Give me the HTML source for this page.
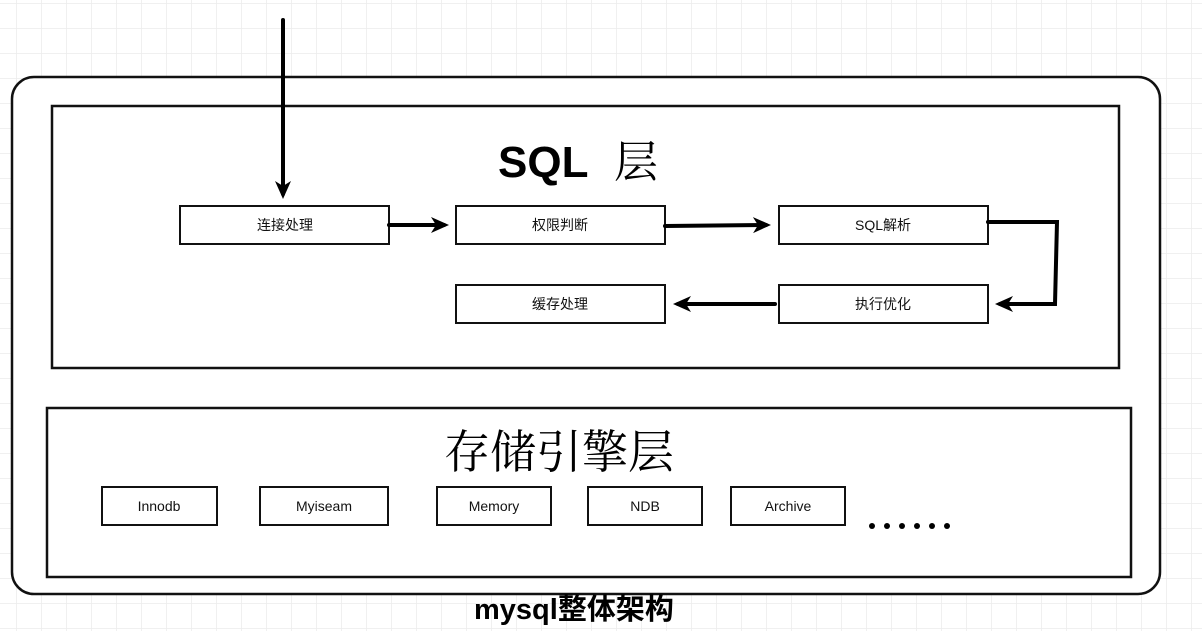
<!DOCTYPE html>
<html><head><meta charset="utf-8"><style>
html,body{margin:0;padding:0;background:#fff;}
body{width:1202px;height:631px;overflow:hidden;}
text{font-family:"Liberation Sans","Noto Sans CJK SC",sans-serif;}
</style></head><body>
<svg width="1202" height="631" viewBox="0 0 1202 631" xmlns="http://www.w3.org/2000/svg">
<defs>
<pattern id="g" x="16" y="3" width="25" height="25" patternUnits="userSpaceOnUse">
<path d="M0 0H25M0 0V25" stroke="#ececec" stroke-width="1.5" fill="none"/>
</pattern>
<marker id="a" markerWidth="18" markerHeight="18" refX="13" refY="9" orient="auto" markerUnits="userSpaceOnUse" viewBox="0 0 18 18">
<path d="M0 1L18 9L0 17L5 9Z" fill="#000"/>
</marker>
</defs>
<rect width="1202" height="631" fill="url(#g)"/>
<rect x="12" y="77" width="1148" height="517" rx="22" fill="#fff" stroke="#111" stroke-width="2.5"/>
<rect x="52" y="106" width="1067" height="262" fill="#fff" stroke="#111" stroke-width="2.5"/>
<rect x="47" y="408" width="1084" height="169" fill="#fff" stroke="#111" stroke-width="2.5"/>

<text x="498" y="177" font-size="44" font-weight="bold" fill="#000">SQL</text>
<text x="614" y="177" font-size="44" fill="#000" style="font-family:'Noto Serif CJK SC',serif">层</text>
<text x="444" y="468" font-size="46" fill="#000" style="font-family:'Noto Serif CJK SC',serif">存储引擎层</text>

<g fill="#fff" stroke="#111" stroke-width="2">
<rect x="180" y="206" width="209" height="38"/>
<rect x="456" y="206" width="209" height="38"/>
<rect x="779" y="206" width="209" height="38"/>
<rect x="779" y="285" width="209" height="38"/>
<rect x="456" y="285" width="209" height="38"/>
<rect x="102" y="487" width="115" height="38"/>
<rect x="260" y="487" width="128" height="38"/>
<rect x="437" y="487" width="114" height="38"/>
<rect x="588" y="487" width="114" height="38"/>
<rect x="731" y="487" width="114" height="38"/>
</g>
<g font-size="14" fill="#111" text-anchor="middle">
<text x="285" y="230">连接处理</text>
<text x="560" y="230">权限判断</text>
<text x="883" y="230">SQL解析</text>
<text x="883" y="309">执行优化</text>
<text x="560" y="309">缓存处理</text>
<text x="159" y="511">Innodb</text>
<text x="324" y="511">Myiseam</text>
<text x="494" y="511">Memory</text>
<text x="645" y="511">NDB</text>
<text x="788" y="511">Archive</text>
</g>
<g stroke="#000" stroke-width="4" fill="none" stroke-linecap="round">
<path d="M283 20V194" marker-end="url(#a)"/>
<path d="M389 225H444" marker-end="url(#a)"/>
<path d="M665 226L766 225" marker-end="url(#a)"/>
<path d="M988 222H1057L1055 304H1000" marker-end="url(#a)"/>
<path d="M775 304H678" marker-end="url(#a)"/>
</g>
<g fill="#000">
<circle cx="872" cy="526" r="3"/><circle cx="887" cy="526" r="3"/><circle cx="902" cy="526" r="3"/>
<circle cx="917" cy="526" r="3"/><circle cx="932" cy="526" r="3"/><circle cx="947" cy="526" r="3"/>
</g>
<text x="474" y="619" font-size="29" font-weight="bold" fill="#000">mysql整体架构</text>
</svg>
</body></html>
